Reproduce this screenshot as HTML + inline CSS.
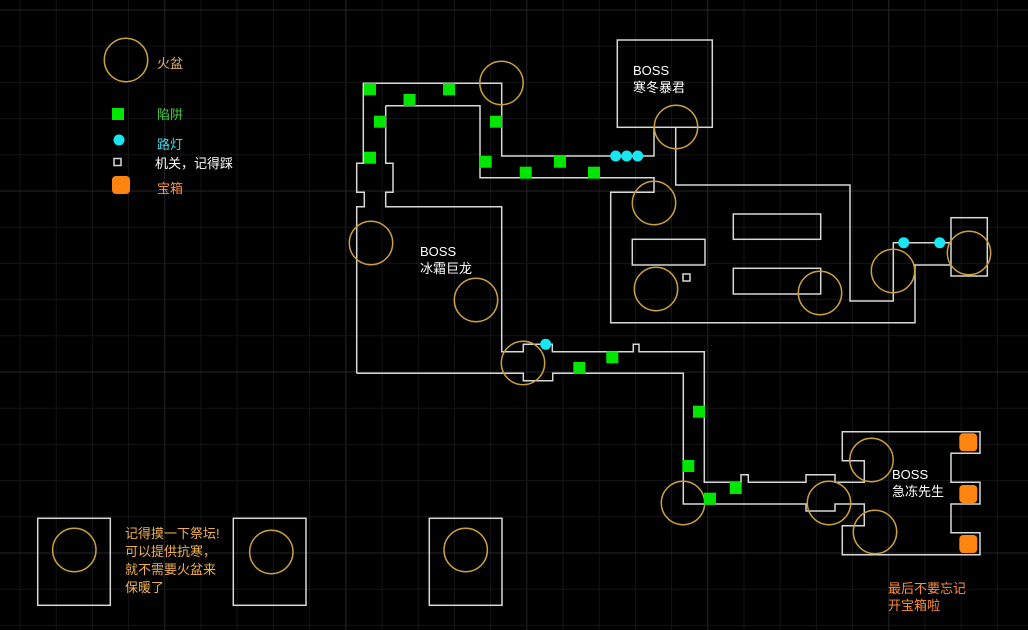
<!DOCTYPE html>
<html><head><meta charset="utf-8"><style>
html,body{margin:0;padding:0;background:#000;}
svg{display:block;}
text{font-family:"Liberation Sans","Noto Sans CJK SC",sans-serif;font-size:13px;}
</style></head><body>
<svg width="1028" height="630" viewBox="0 0 1028 630" xmlns="http://www.w3.org/2000/svg">
<rect width="1028" height="630" fill="#000"/>
<g id="grid" stroke-width="1"></g>
<g fill="none" stroke="#d8d8d8" stroke-width="1.5">
<polyline points="356.7,373.3 356.7,206.7 364.3,206.7 364.3,192.3 356.7,192.3 356.7,163.3 363.3,163.3 363.3,83.3 501.7,83.3 501.7,156 654,156 654,127.3"/>
<rect x="617.3" y="40" width="95" height="87.3"/>
<polyline points="385.7,105.7 385.7,163.3 393,163.3 393,192.3 385.7,192.3 385.7,206.7 501.7,206.7 501.7,351.7 523.3,351.7 523.3,344.3 552.3,344.3 552.3,351.7 633.3,351.7 633.3,344.3 639,344.3 639,351.7 704.3,351.7 704.3,482.3 741,482.3 741,474.7 748.3,474.7 748.3,482.3 806,482.3 806,474.7 835,474.7 835,482.3 864.3,482.3 864.3,460.7 842.3,460.7 842.3,431.7 980,431.7 980,453.3 951,453.3 951,482.3 980,482.3 980,504 951,504 951,532.7 980,532.7 980,554.7 842.3,554.7 842.3,525.7 864.3,525.7 864.3,504 835,504 835,511 806,511 806,504 683.3,504 683.3,373.3 552.7,373.3 552.7,380.7 523.3,380.7 523.3,373.3 356.7,373.3"/>
<polyline points="385.7,105.7 480,105.7 480,177.7 654,177.7 654,192.3 610.7,192.3 610.7,322.7 915,322.7 915,265 951,265"/>
<polyline points="675.7,127.3 675.7,185 850,185 850,301 893.3,301 893.3,242.7 951,242.7"/>
<rect x="951" y="217.7" width="36.3" height="58.3"/>
<rect x="632.3" y="239.3" width="72.7" height="25.7"/>
<rect x="733.3" y="214" width="87.4" height="25.3"/>
<rect x="733.3" y="268.3" width="87.4" height="25.7"/>
<rect x="683" y="274" width="7" height="7"/>
<rect x="114" y="158.5" width="7" height="7"/>
<rect x="37.7" y="518.3" width="72.6" height="87"/>
<rect x="233.3" y="518.3" width="72.7" height="87"/>
<rect x="429.3" y="518.3" width="72.7" height="87"/>
</g>
<g fill="none" stroke="#c9a040" stroke-width="1.5">
<circle cx="126" cy="60" r="21.7"/>
<circle cx="501.5" cy="83" r="21.7"/>
<circle cx="676" cy="127" r="21.7"/>
<circle cx="654" cy="203" r="21.7"/>
<circle cx="371" cy="243" r="21.7"/>
<circle cx="476" cy="300" r="21.7"/>
<circle cx="656" cy="289" r="21.7"/>
<circle cx="820" cy="293" r="21.7"/>
<circle cx="893" cy="271" r="21.7"/>
<circle cx="969" cy="253" r="21.7"/>
<circle cx="523" cy="363" r="21.7"/>
<circle cx="683" cy="503" r="21.7"/>
<circle cx="829" cy="503" r="21.7"/>
<circle cx="871.5" cy="460" r="21.7"/>
<circle cx="875" cy="532" r="21.7"/>
<circle cx="74.3" cy="550" r="21.7"/>
<circle cx="271.3" cy="552" r="21.7"/>
<circle cx="465.7" cy="550" r="21.7"/>
</g>
<g fill="#00e600">
<rect x="112" y="108" width="12" height="12"/>
<rect x="364" y="83.3" width="12" height="12"/>
<rect x="403.5" y="94" width="12" height="12"/>
<rect x="443" y="83.3" width="12" height="12"/>
<rect x="374" y="115.7" width="12" height="12"/>
<rect x="490" y="115.7" width="12" height="12"/>
<rect x="364" y="151.7" width="12" height="12"/>
<rect x="479.7" y="155.7" width="12" height="12"/>
<rect x="519.7" y="166.7" width="12" height="12"/>
<rect x="554" y="155.7" width="12" height="12"/>
<rect x="588" y="166.7" width="12" height="12"/>
<rect x="573.3" y="362" width="12" height="12"/>
<rect x="606.3" y="351.3" width="12" height="12"/>
<rect x="693" y="405.7" width="12" height="12"/>
<rect x="682.3" y="460" width="12" height="12"/>
<rect x="729.7" y="482" width="12" height="12"/>
<rect x="704" y="492.7" width="12" height="12"/>
</g>
<g fill="#19e6f0">
<circle cx="119" cy="140" r="5.5"/>
<circle cx="615.7" cy="156" r="5.5"/>
<circle cx="626.7" cy="156" r="5.5"/>
<circle cx="637.7" cy="156" r="5.5"/>
<circle cx="545.7" cy="344.3" r="5.5"/>
<circle cx="903.7" cy="242.7" r="5.5"/>
<circle cx="939.7" cy="242.7" r="5.5"/>
</g>
<g fill="#ff8410">
<rect x="112" y="176" width="18" height="18" rx="4"/>
<rect x="959.3" y="433.3" width="18" height="18" rx="4"/>
<rect x="959.3" y="485" width="18" height="18" rx="4"/>
<rect x="959.3" y="535" width="18" height="18" rx="4"/>
</g>
<text x="157" y="68" fill="#e0b070">火盆</text>
<text x="157" y="119" fill="#44cc44">陷阱</text>
<text x="157" y="149" fill="#40d8e8">路灯</text>
<text x="155" y="168" fill="#ffffff">机关，记得踩</text>
<text x="157" y="193" fill="#ff9040">宝箱</text>
<text x="633" y="75" fill="#fff">BOSS</text>
<text x="633" y="92" fill="#fff">寒冬暴君</text>
<text x="420" y="256" fill="#fff">BOSS</text>
<text x="420" y="273" fill="#fff">冰霜巨龙</text>
<text x="892" y="479" fill="#fff">BOSS</text>
<text x="892" y="496" fill="#fff">急冻先生</text>
<g fill="#f0b050">
<text x="125" y="538">记得摸一下祭坛!</text>
<text x="125" y="556">可以提供抗寒，</text>
<text x="125" y="574">就不需要火盆来</text>
<text x="125" y="592">保暖了</text>
</g>
<text x="888" y="593" fill="#ff8c3c">最后不要忘记</text>
<text x="888" y="610" fill="#ff8c3c">开宝箱啦</text>
<script>
(function(){var g=document.getElementById('grid'),ns='http://www.w3.org/2000/svg',s=36.2;
for(var i=-1;i<30;i++){var x=20+i*s;if(x<0||x>1028)continue;var l=document.createElementNS(ns,'line');l.setAttribute('x1',x);l.setAttribute('x2',x);l.setAttribute('y1',0);l.setAttribute('y2',630);l.setAttribute('stroke',((i%5)+5)%5==4?'#26262c':'#141418');g.appendChild(l);}
for(var j=-1;j<20;j++){var y=10+j*s;if(y<0||y>630)continue;var l=document.createElementNS(ns,'line');l.setAttribute('y1',y);l.setAttribute('y2',y);l.setAttribute('x1',0);l.setAttribute('x2',1028);l.setAttribute('stroke',j%5==0?'#26262c':'#141418');g.appendChild(l);}})();
</script>
</svg>
</body></html>
